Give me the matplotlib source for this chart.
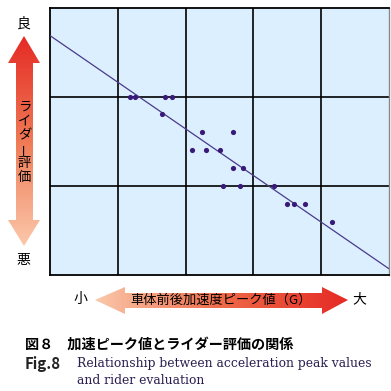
import numpy as np
import matplotlib
matplotlib.use("Agg")
import matplotlib.pyplot as plt
from matplotlib.patches import Polygon
from matplotlib.colors import LinearSegmentedColormap

# Data (grid units: x 0-5, y 0-3)
acc_peak = [1.18, 1.25, 1.70, 1.80, 1.65, 2.09, 2.24, 2.70, 2.30, 2.51,
            2.70, 2.85, 2.55, 2.80, 3.30, 3.50, 3.60, 3.76, 4.16]
rider_eval = [2.00, 2.00, 2.00, 2.00, 1.81, 1.40, 1.61, 1.61, 1.40, 1.40,
              1.20, 1.20, 1.00, 1.00, 1.00, 0.80, 0.80, 0.80, 0.60]
fit_x = [0.0, 5.0]
fit_y = [2.69, 0.07]

W = H = 391
fig = plt.figure(figsize=(3.91, 3.91), dpi=100)
fig.patch.set_facecolor("white")

jp = ["Noto Sans CJK JP", "DejaVu Sans"]

# main axes
L, R, T, B = 50, 389, 8, 275
ax = fig.add_axes([L / W, (H - B) / H, (R - L) / W, (B - T) / H])
ax.set_facecolor("#dcefff")
ax.set_xlim(0, 5)
ax.set_ylim(0, 3)
ax.set_xticks([1, 2, 3, 4])
ax.set_yticks([1, 2])
ax.grid(True, color="black", linewidth=1.2)
ax.tick_params(length=0, labelleft=False, labelbottom=False)
for s in ["left", "bottom", "top"]:
    ax.spines[s].set_color("black")
    ax.spines[s].set_linewidth(1.3)
ax.spines["right"].set_color("#888888")
ax.spines["right"].set_linewidth(1.0)
ax.plot(fit_x, fit_y, color="#4a3a8a", linewidth=0.9, zorder=3)
ax.scatter(acc_peak, rider_eval, s=14, color="#3a1a78", zorder=4, linewidths=0)

# overlay axes in pixel coordinates
ov = fig.add_axes([0, 0, 1, 1])
ov.axis("off")
ov.patch.set_alpha(0)

red = "#e52a25"
pale = "#fbc8ab"
cmap = LinearSegmentedColormap.from_list("g", [red, "#ef7a55", pale])

# vertical arrow
vpoly = [(24, 36), (40, 63), (33, 63), (33, 220), (40, 220), (24, 246),
         (8, 220), (16, 220), (16, 63), (8, 63)]
p = Polygon(vpoly, closed=True, facecolor="none", edgecolor="none")
ov.add_patch(p)
grad = np.linspace(0, 1, 256).reshape(-1, 1)
im = ov.imshow(grad, extent=(8, 40, 246, 36), cmap=cmap, aspect="auto",
               origin="upper", interpolation="bilinear")
im.set_clip_path(p)

# horizontal arrow
hpoly = [(95, 300), (125, 287), (125, 293), (322, 293), (322, 287), (348, 300),
         (322, 314), (322, 308), (125, 308), (125, 314)]
p2 = Polygon(hpoly, closed=True, facecolor="none", edgecolor="none")
ov.add_patch(p2)
grad2 = np.linspace(1, 0, 256).reshape(1, -1)
cmap2 = LinearSegmentedColormap.from_list("g2", [red, "#ee6a48", pale])
im2 = ov.imshow(grad2, extent=(95, 348, 314, 287), cmap=cmap2, aspect="auto",
                origin="upper", interpolation="bilinear")
im2.set_clip_path(p2)
ov.set_xlim(0, W)
ov.set_ylim(H, 0)

# texts
ov.text(24, 24, "良", family=jp, fontsize=10, ha="center", va="center")
ov.text(23, 260, "悪", family=jp, fontsize=10, ha="center", va="center")
vchars = [("ラ", 107), ("イ", 121), ("ダ", 135), ("ー", 149), ("評", 163), ("価", 177)]
for c, y in vchars:
    rot = 90 if c == "ー" else 0
    ov.text(24.5, y, c, family=jp, fontsize=9.6, ha="center", va="center", rotation=rot)

ov.text(80, 299, "小", family=jp, fontsize=10, ha="center", va="center")
ov.text(359, 299, "大", family=jp, fontsize=10, ha="center", va="center")
ov.text(221, 300, "車体前後加速度ピーク値（G）", family=jp, fontsize=9.5,
        ha="center", va="center")

ov.text(25, 345, "図８　加速ピーク値とライダー評価の関係", family=jp, fontsize=10.2,
        fontweight="bold", ha="left", va="center")
ov.text(25, 364, "Fig.8", family=jp, fontsize=10.8, fontweight="bold",
        ha="left", va="center", color="#222222")
ov.text(77, 364, "Relationship between acceleration peak values",
        family=["DejaVu Serif"], fontsize=8.9, ha="left", va="center",
        color="#2a2050")
ov.text(77, 381, "and rider evaluation",
        family=["DejaVu Serif"], fontsize=8.9, ha="left", va="center",
        color="#2a2050")

fig.savefig("out.png", dpi=100)
